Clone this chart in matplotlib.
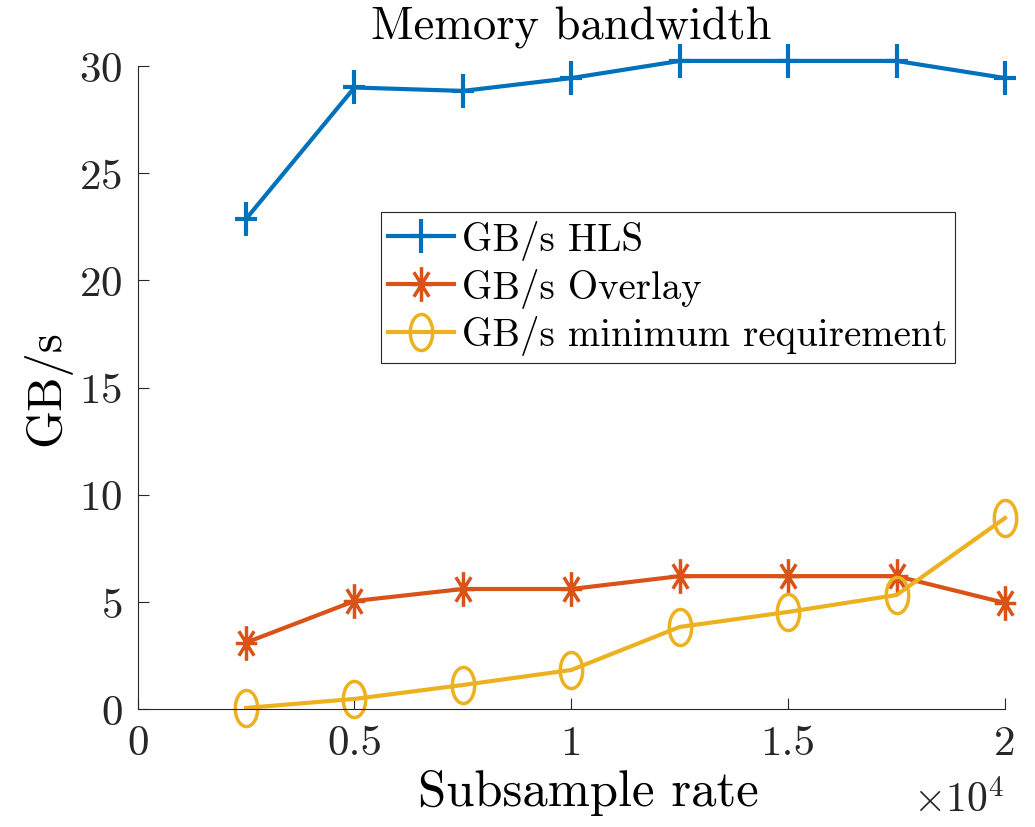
import matplotlib
matplotlib.use('Agg')
import numpy as np
import matplotlib.pyplot as plt
from matplotlib.path import Path
from matplotlib.ticker import FuncFormatter

# Daten
rate = [2500, 5000, 7500, 10000, 12500, 15000, 17500, 20000]
gbs_hls = [22.87, 29.0, 28.84, 29.44, 30.24, 30.24, 30.24, 29.44]
gbs_overlay = [3.1, 5.04, 5.6, 5.6, 6.2, 6.2, 6.2, 4.95]
gbs_min = [0.05, 0.47, 1.12, 1.82, 3.83, 4.53, 5.32, 8.91]

plt.rcParams['font.family'] = 'serif'
plt.rcParams['font.serif'] = ['cmr10']
plt.rcParams['mathtext.fontset'] = 'cm'
plt.rcParams['axes.formatter.use_mathtext'] = True
axcol = '#262626'

# Marker etwas schmal (wie im Original-Export)
sx = 0.62
plus_m = Path([(-sx, 0), (sx, 0), (0, -1), (0, 1)],
              [Path.MOVETO, Path.LINETO, Path.MOVETO, Path.LINETO])
c = 0.7071
ast_m = Path([(-sx, 0), (sx, 0), (0, -1), (0, 1),
              (-sx * c, -c), (sx * c, c), (-sx * c, c), (sx * c, -c)],
             [Path.MOVETO, Path.LINETO] * 4)
t = np.linspace(0, 2 * np.pi, 60)
ell_m = Path(np.column_stack([sx * np.cos(t), np.sin(t)]), closed=True)

fig = plt.figure(figsize=(10.35, 8.28), dpi=100)
ax = fig.add_axes([0.133, 0.1425, 0.838, 0.7765])

ax.plot(rate, gbs_hls, color='#0072BD', marker=plus_m, markersize=25, mew=3,
        lw=3, label='GB/s HLS', clip_on=False)
ax.plot(rate, gbs_overlay, color='#D95319', marker=ast_m, markersize=25, mew=2.5,
        lw=3, label='GB/s Overlay', clip_on=False)
ax.plot(rate, gbs_min, color='#EDB120', marker=ell_m, markersize=26, mew=2.5,
        mfc='none', lw=3, label='GB/s minimum requirement', clip_on=False)

ax.set_xlim(0, 20000)
ax.set_ylim(0, 30)
ax.set_xticks([0, 5000, 10000, 15000, 20000])
ax.set_yticks([0, 5, 10, 15, 20, 25, 30])
ax.xaxis.set_major_formatter(FuncFormatter(lambda v, p: '%g' % (v / 1e4)))

for s in ['top', 'right']:
    ax.spines[s].set_visible(False)
for s in ['left', 'bottom']:
    ax.spines[s].set_color(axcol)
    ax.spines[s].set_linewidth(0.8)
ax.tick_params(direction='in', length=8, width=0.8, colors=axcol,
               labelsize=31, pad=11)

ax.set_title('Memory bandwidth', fontsize=33.5, color='black', pad=20)
ax.set_xlabel('Subsample rate', fontsize=36.5)
ax.xaxis.set_label_coords(0.52, -0.094)
ax.set_ylabel('GB/s', fontsize=35, labelpad=6)
ax.text(1.0, -0.14, r'$\times 10^4$', transform=ax.transAxes, fontsize=30,
        ha='right', va='center', color=axcol)

leg = ax.legend(loc='upper left', bbox_to_anchor=(0.28, 0.773), fontsize=28,
                fancybox=False, edgecolor=axcol, framealpha=1,
                handlelength=1.7, handletextpad=0.2, borderpad=0.2,
                labelspacing=0.2, borderaxespad=0)
leg.get_frame().set_linewidth(0.8)

fig.savefig('out.png', dpi=100)
